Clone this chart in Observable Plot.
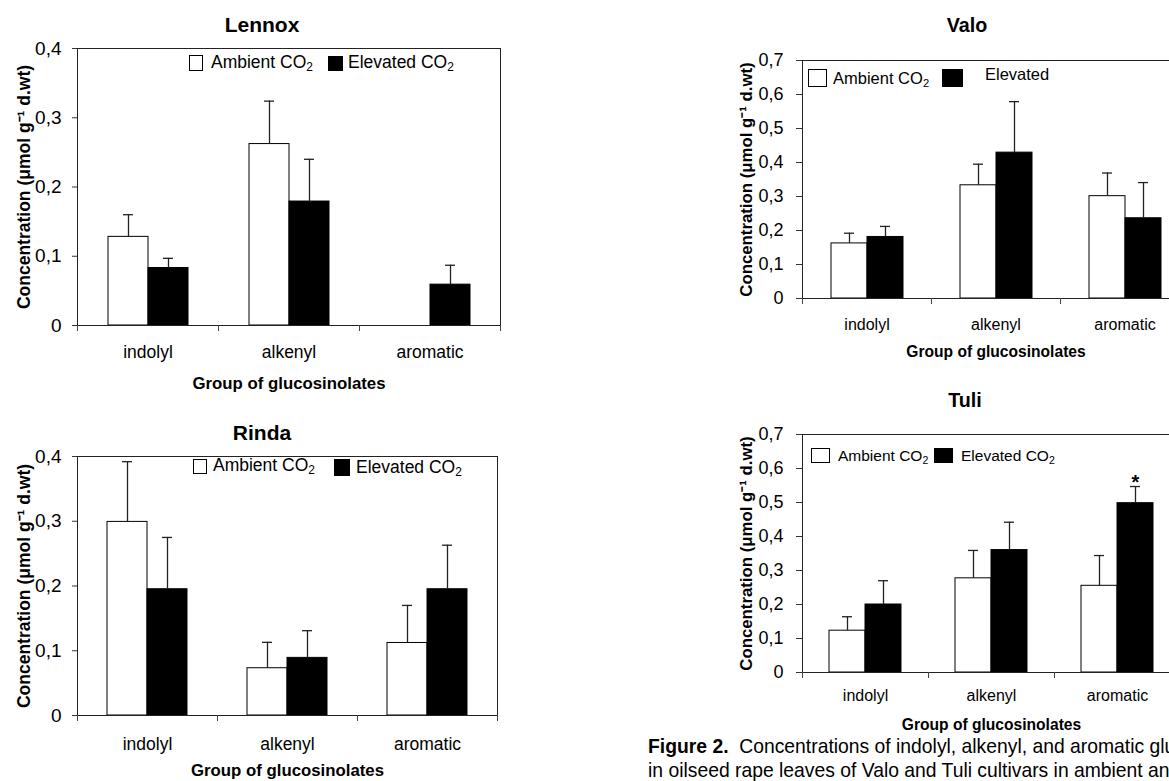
<!DOCTYPE html>
<html><head><meta charset="utf-8">
<script src="https://cdn.jsdelivr.net/npm/d3@7"></script>
<script src="https://cdn.jsdelivr.net/npm/@observablehq/plot@0.6"></script>
<style>
html,body{margin:0;padding:0;background:#fff;}
#page{position:relative;width:1169px;height:781px;overflow:hidden;font-family:"Liberation Sans",Arial,sans-serif;color:#000;}
.panel{position:absolute;}
.panel svg{overflow:visible;max-width:none !important;}
.title{position:absolute;font-weight:bold;transform:translate(-50%,-50%);white-space:nowrap;}
.sw{position:absolute;box-sizing:border-box;border:1px solid #000;}
.lt{position:absolute;white-space:nowrap;transform:translateY(-50%);line-height:1;}
.lt sub{font-size:68%;vertical-align:-0.25em;line-height:0;}
.right [aria-label="y-axis label"]{font-size:16.8px;font-weight:bold;}
.right [aria-label="fx-axis label"]{font-size:15.6px;font-weight:bold;}
.left [aria-label="y-axis label"]{font-size:17.5px;font-weight:bold;}
.left [aria-label="fx-axis label"]{font-size:16.8px;font-weight:bold;}
#caption{position:absolute;left:648px;top:734px;font-size:21px;line-height:24px;white-space:nowrap;transform:scaleX(0.92);transform-origin:0 0;}
</style></head><body><div id="page"></div>
<script>
// ---- data ----
const groups = ["indolyl", "alkenyl", "aromatic"];
const treatments = ["Ambient", "Elevated"];
const legendLabels = ["Ambient CO", "Elevated CO"];

const lennoxAmbient = [0.128, 0.262, null];
const lennoxAmbientErr = [0.032, 0.062, null];
const lennoxElevated = [0.083, 0.179, 0.059];
const lennoxElevatedErr = [0.014, 0.061, 0.028];

const rindaAmbient = [0.299, 0.073, 0.112];
const rindaAmbientErr = [0.093, 0.040, 0.058];
const rindaElevated = [0.195, 0.089, 0.195];
const rindaElevatedErr = [0.080, 0.042, 0.068];

const valoAmbient = [0.162, 0.333, 0.301];
const valoAmbientErr = [0.030, 0.062, 0.068];
const valoElevated = [0.181, 0.429, 0.236];
const valoElevatedErr = [0.031, 0.150, 0.105];

const tuliAmbient = [0.123, 0.277, 0.255];
const tuliAmbientErr = [0.041, 0.082, 0.089];
const tuliElevated = [0.200, 0.360, 0.498];
const tuliElevatedErr = [0.070, 0.082, 0.049];
const tuliSignificant = [["aromatic", "Elevated"]];

const ticksLeft = [0, 0.1, 0.2, 0.3, 0.4];
const ticksRight = [0, 0.1, 0.2, 0.3, 0.4, 0.5, 0.6, 0.7];
const yLabel = "Concentration (\u03bcmol g\u207b\u00b9 d.wt)";
const xLabel = "Group of glucosinolates";

function rows(amb, ambErr, elev, elevErr, sig = []) {
  const out = [];
  groups.forEach((g, i) => {
    [[treatments[0], amb[i], ambErr[i]], [treatments[1], elev[i], elevErr[i]]].forEach(([t, v, e]) => {
      if (v == null) return;
      out.push({group: g, treatment: t, value: v, err: e, upper: e == null ? null : v + e,
        sig: sig.some(([sg, st]) => sg === g && st === t)});
    });
  });
  return out;
}

const fmt = d => d === 0 ? "0" : d3.format(".1f")(d).replace(".", ",");
const FONT = "'Liberation Sans', Arial, sans-serif";
const page = document.getElementById("page");

function panel(cfg, data) {
  const ph = cfg.height - cfg.marginTop - cfg.marginBottom;
  const withErr = data.filter(d => d.err != null);
  const chart = Plot.plot({
    width: cfg.width, height: cfg.height,
    marginLeft: cfg.marginLeft, marginRight: cfg.marginRight,
    marginTop: cfg.marginTop, marginBottom: cfg.marginBottom,
    style: {fontFamily: FONT, fontSize: cfg.tickFont + "px", color: "#000", background: "transparent", overflow: "visible", maxWidth: "none"},
    fx: {domain: groups, padding: 0, label: null},
    x: {domain: treatments, paddingInner: 0, paddingOuter: 0.75, axis: null},
    y: {domain: [0, cfg.yMax]},
    color: {domain: treatments, range: ["#ffffff", "#000000"]},
    marks: [
      Plot.barY(data, {fx: "group", x: "treatment", y: "value", fill: "treatment", stroke: "#000", strokeWidth: 1}),
      Plot.ruleX(withErr, {fx: "group", x: "treatment", y1: "value", y2: "upper", stroke: "#222", strokeWidth: 1.3}),
      Plot.tickY(withErr, {fx: "group", x: "treatment", y: "upper", stroke: "#222", strokeWidth: 1.3, insetLeft: cfg.capInset, insetRight: cfg.capInset}),
      Plot.text(data.filter(d => d.sig), {fx: "group", x: "treatment", y: "upper", text: () => "*", fontSize: 20, fontWeight: "bold", lineAnchor: "bottom", dy: 2}),
      Plot.frame({anchor: "top", stroke: "#222"}),
      Plot.frame({anchor: "bottom", stroke: "#222"}),
      Plot.frame({anchor: "left", facetAnchor: "left", stroke: "#222"}),
      Plot.frame({anchor: "right", facetAnchor: "right", stroke: "#222"}),
      Plot.frame({anchor: "left", insetTop: ph, insetBottom: -5, stroke: "#444"}),
      Plot.frame({anchor: "right", facetAnchor: "right", insetTop: ph, insetBottom: -5, stroke: "#444"}),
      Plot.axisY({ticks: cfg.ticks, tickFormat: fmt, tickSize: cfg.tickSize, tickPadding: cfg.tickPadding,
        fontSize: cfg.yTickFont, label: yLabel, labelAnchor: "center", labelOffset: cfg.yLabelOffset, labelArrow: "none", stroke: "#333"}),
      Plot.axisFx({anchor: "bottom", tickSize: 0, tickPadding: cfg.fxPadding, fontSize: cfg.tickFont,
        label: xLabel, labelAnchor: "center", labelOffset: cfg.xLabelOffset, labelArrow: "none"})
    ]
  });
  const div = document.createElement("div");
  div.className = "panel " + cfg.side;
  div.style.left = cfg.left + "px";
  div.style.top = cfg.top + "px";
  div.style.width = cfg.width + "px";
  div.style.height = cfg.height + "px";
  div.appendChild(chart);
  page.appendChild(div);

  const t = document.createElement("div");
  t.className = "title";
  t.textContent = cfg.title;
  t.style.left = cfg.titleX + "px";
  t.style.top = cfg.titleY + "px";
  t.style.fontSize = cfg.titleFont + "px";
  page.appendChild(t);

  cfg.legend.forEach((item, i) => {
    const sw = document.createElement("div");
    sw.className = "sw";
    sw.style.left = item.sx + "px"; sw.style.top = item.sy + "px";
    sw.style.width = item.sw + "px"; sw.style.height = item.sh + "px";
    sw.style.background = i === 0 ? "#fff" : "#000";
    page.appendChild(sw);
    const lt = document.createElement("div");
    lt.className = "lt";
    lt.style.left = item.tx + "px"; lt.style.top = item.ty + "px";
    lt.style.fontSize = cfg.legendFont + "px";
    lt.innerHTML = item.text;
    page.appendChild(lt);
  });
}

panel({side: "left", title: "Lennox", titleX: 262, titleY: 25, titleFont: 21,
  left: 0, top: 0, width: 520, height: 400, marginLeft: 76, marginRight: 19, marginTop: 48, marginBottom: 75,
  yMax: 0.4, ticks: ticksLeft, tickSize: 5, tickPadding: 11, yTickFont: 19, tickFont: 17.5,
  yLabelOffset: 60, fxPadding: 20, xLabelOffset: 63, capInset: 15, legendFont: 17.5,
  legend: [
    {sx: 189, sy: 55, sw: 14, sh: 16, tx: 211, ty: 63, text: legendLabels[0] + "<sub>2</sub>"},
    {sx: 328, sy: 56, sw: 15, sh: 15, tx: 348, ty: 63, text: legendLabels[1] + "<sub>2</sub>"}
  ]}, rows(lennoxAmbient, lennoxAmbientErr, lennoxElevated, lennoxElevatedErr));

panel({side: "left", title: "Rinda", titleX: 262, titleY: 433, titleFont: 21,
  left: 0, top: 400, width: 520, height: 400, marginLeft: 76, marginRight: 22, marginTop: 56, marginBottom: 85,
  yMax: 0.4, ticks: ticksLeft, tickSize: 5, tickPadding: 11, yTickFont: 19, tickFont: 17.5,
  yLabelOffset: 60, fxPadding: 22, xLabelOffset: 60, capInset: 15, legendFont: 17.5,
  legend: [
    {sx: 193, sy: 459, sw: 14, sh: 15, tx: 213, ty: 466, text: legendLabels[0] + "<sub>2</sub>"},
    {sx: 334, sy: 459, sw: 16, sh: 17, tx: 356, ty: 468, text: legendLabels[1] + "<sub>2</sub>"}
  ]}, rows(rindaAmbient, rindaAmbientErr, rindaElevated, rindaElevatedErr));

panel({side: "right", title: "Valo", titleX: 967, titleY: 25, titleFont: 19.7,
  left: 700, top: 0, width: 500, height: 380, marginLeft: 101, marginRight: 11, marginTop: 60, marginBottom: 82,
  yMax: 0.7, ticks: ticksRight, tickSize: 6, tickPadding: 13, yTickFont: 18, tickFont: 16,
  yLabelOffset: 62, fxPadding: 20, xLabelOffset: 58, capInset: 13, legendFont: 16.5,
  legend: [
    {sx: 808, sy: 69, sw: 19, sh: 18, tx: 833, ty: 78, text: legendLabels[0] + "<sub>2</sub>"},
    {sx: 942, sy: 69, sw: 21, sh: 18, tx: 985, ty: 74, text: "Elevated"}
  ]}, rows(valoAmbient, valoAmbientErr, valoElevated, valoElevatedErr));

panel({side: "right", title: "Tuli", titleX: 965, titleY: 400, titleFont: 19.7,
  left: 700, top: 380, width: 500, height: 370, marginLeft: 101, marginRight: 19, marginTop: 54, marginBottom: 78,
  yMax: 0.7, ticks: ticksRight, tickSize: 6, tickPadding: 13, yTickFont: 18, tickFont: 16,
  yLabelOffset: 62, fxPadding: 17, xLabelOffset: 57, capInset: 13, legendFont: 15.5,
  legend: [
    {sx: 811, sy: 448, sw: 19, sh: 15, tx: 838, ty: 456, text: legendLabels[0] + "<sub>2</sub>"},
    {sx: 934, sy: 448, sw: 19, sh: 15, tx: 961, ty: 456, text: legendLabels[1] + "<sub>2</sub>"}
  ]}, rows(tuliAmbient, tuliAmbientErr, tuliElevated, tuliElevatedErr, tuliSignificant));

const cap = document.createElement("div");
cap.id = "caption";
cap.innerHTML = "<b>Figure 2.</b>&nbsp;&nbsp;Concentrations of indolyl, alkenyl, and aromatic glucosinolates<br>in oilseed rape leaves of Valo and Tuli cultivars in ambient and elevated CO<sub style='font-size:68%'>2</sub>";
page.appendChild(cap);
</script>
</body></html>
